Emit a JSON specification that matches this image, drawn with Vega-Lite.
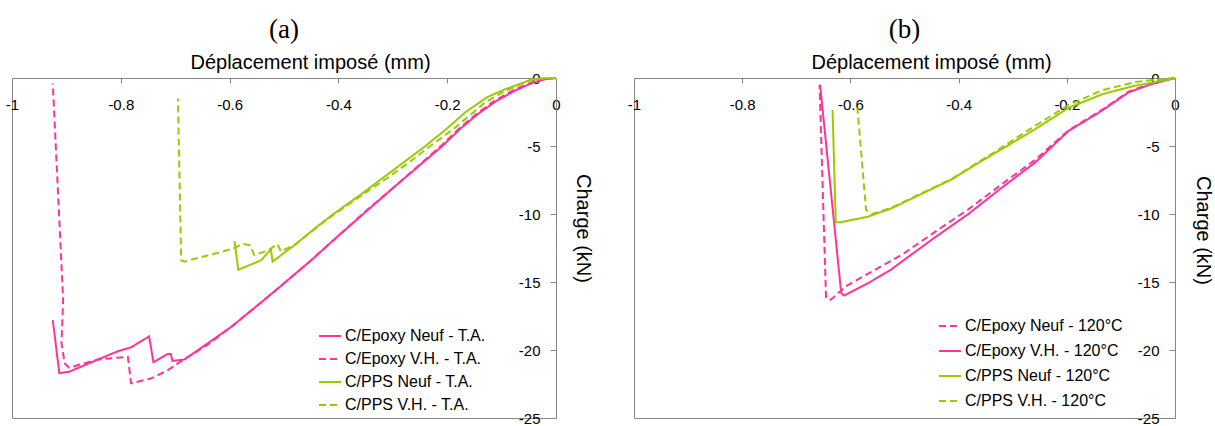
{
  "$schema": "https://vega.github.io/schema/vega-lite/v6.json",
  "background": "white",
  "padding": {"left": 4, "top": 15, "right": 5, "bottom": 0},
  "bounds": "flush",
  "spacing": 78,
  "config": {
    "font": "Liberation Sans",
    "view": {"stroke": "#868686", "strokeWidth": 1},
    "axis": {"grid": false, "domainColor": "#868686", "tickColor": "#868686", "labelColor": "#000000", "titleColor": "#000000", "labelFont": "Liberation Sans", "titleFont": "Liberation Sans", "titleFontWeight": "normal"},
    "title": {"font": "Liberation Serif", "fontSize": 27, "fontWeight": "normal", "color": "#000000"},
    "legend": {"labelFont": "Liberation Sans", "labelFontSize": 16, "labelColor": "#000000", "symbolType": "stroke", "symbolSize": 484, "symbolStrokeWidth": 2, "labelOffset": 3, "padding": 0, "labelLimit": 400}
  },
  "datasets": {
    "a": [
      {"s": "C/Epoxy Neuf - T.A.", "i": 0, "x": 0, "y": 0},
      {"s": "C/Epoxy Neuf - T.A.", "i": 1, "x": -0.02, "y": -0.1},
      {"s": "C/Epoxy Neuf - T.A.", "i": 2, "x": -0.04, "y": -0.3},
      {"s": "C/Epoxy Neuf - T.A.", "i": 3, "x": -0.074, "y": -0.9},
      {"s": "C/Epoxy Neuf - T.A.", "i": 4, "x": -0.11, "y": -1.7},
      {"s": "C/Epoxy Neuf - T.A.", "i": 5, "x": -0.142, "y": -2.6},
      {"s": "C/Epoxy Neuf - T.A.", "i": 6, "x": -0.175, "y": -3.7},
      {"s": "C/Epoxy Neuf - T.A.", "i": 7, "x": -0.209, "y": -5.0},
      {"s": "C/Epoxy Neuf - T.A.", "i": 8, "x": -0.25, "y": -6.4},
      {"s": "C/Epoxy Neuf - T.A.", "i": 9, "x": -0.3, "y": -8.1},
      {"s": "C/Epoxy Neuf - T.A.", "i": 10, "x": -0.35, "y": -9.85},
      {"s": "C/Epoxy Neuf - T.A.", "i": 11, "x": -0.4, "y": -11.6},
      {"s": "C/Epoxy Neuf - T.A.", "i": 12, "x": -0.45, "y": -13.4},
      {"s": "C/Epoxy Neuf - T.A.", "i": 13, "x": -0.5, "y": -15.1},
      {"s": "C/Epoxy Neuf - T.A.", "i": 14, "x": -0.542, "y": -16.5},
      {"s": "C/Epoxy Neuf - T.A.", "i": 15, "x": -0.597, "y": -18.3},
      {"s": "C/Epoxy Neuf - T.A.", "i": 16, "x": -0.64, "y": -19.5},
      {"s": "C/Epoxy Neuf - T.A.", "i": 17, "x": -0.683, "y": -20.7},
      {"s": "C/Epoxy Neuf - T.A.", "i": 18, "x": -0.705, "y": -20.8},
      {"s": "C/Epoxy Neuf - T.A.", "i": 19, "x": -0.708, "y": -20.3},
      {"s": "C/Epoxy Neuf - T.A.", "i": 20, "x": -0.714, "y": -20.3},
      {"s": "C/Epoxy Neuf - T.A.", "i": 21, "x": -0.74, "y": -20.9},
      {"s": "C/Epoxy Neuf - T.A.", "i": 22, "x": -0.748, "y": -19.0},
      {"s": "C/Epoxy Neuf - T.A.", "i": 23, "x": -0.781, "y": -19.8},
      {"s": "C/Epoxy Neuf - T.A.", "i": 24, "x": -0.806, "y": -20.1},
      {"s": "C/Epoxy Neuf - T.A.", "i": 25, "x": -0.842, "y": -20.7},
      {"s": "C/Epoxy Neuf - T.A.", "i": 26, "x": -0.895, "y": -21.6},
      {"s": "C/Epoxy Neuf - T.A.", "i": 27, "x": -0.913, "y": -21.7},
      {"s": "C/Epoxy Neuf - T.A.", "i": 28, "x": -0.925, "y": -17.8},

      {"s": "C/Epoxy V.H. - T.A.", "i": 0, "x": 0, "y": 0},
      {"s": "C/Epoxy V.H. - T.A.", "i": 1, "x": -0.02, "y": -0.05},
      {"s": "C/Epoxy V.H. - T.A.", "i": 2, "x": -0.04, "y": -0.25},
      {"s": "C/Epoxy V.H. - T.A.", "i": 3, "x": -0.074, "y": -0.8},
      {"s": "C/Epoxy V.H. - T.A.", "i": 4, "x": -0.11, "y": -1.6},
      {"s": "C/Epoxy V.H. - T.A.", "i": 5, "x": -0.142, "y": -2.5},
      {"s": "C/Epoxy V.H. - T.A.", "i": 6, "x": -0.175, "y": -3.6},
      {"s": "C/Epoxy V.H. - T.A.", "i": 7, "x": -0.209, "y": -4.9},
      {"s": "C/Epoxy V.H. - T.A.", "i": 8, "x": -0.25, "y": -6.35},
      {"s": "C/Epoxy V.H. - T.A.", "i": 9, "x": -0.3, "y": -8.1},
      {"s": "C/Epoxy V.H. - T.A.", "i": 10, "x": -0.35, "y": -9.8},
      {"s": "C/Epoxy V.H. - T.A.", "i": 11, "x": -0.4, "y": -11.6},
      {"s": "C/Epoxy V.H. - T.A.", "i": 12, "x": -0.45, "y": -13.4},
      {"s": "C/Epoxy V.H. - T.A.", "i": 13, "x": -0.5, "y": -15.1},
      {"s": "C/Epoxy V.H. - T.A.", "i": 14, "x": -0.542, "y": -16.5},
      {"s": "C/Epoxy V.H. - T.A.", "i": 15, "x": -0.597, "y": -18.3},
      {"s": "C/Epoxy V.H. - T.A.", "i": 16, "x": -0.64, "y": -19.6},
      {"s": "C/Epoxy V.H. - T.A.", "i": 17, "x": -0.692, "y": -20.9},
      {"s": "C/Epoxy V.H. - T.A.", "i": 18, "x": -0.714, "y": -21.5},
      {"s": "C/Epoxy V.H. - T.A.", "i": 19, "x": -0.745, "y": -22.1},
      {"s": "C/Epoxy V.H. - T.A.", "i": 20, "x": -0.781, "y": -22.45},
      {"s": "C/Epoxy V.H. - T.A.", "i": 21, "x": -0.787, "y": -20.5},
      {"s": "C/Epoxy V.H. - T.A.", "i": 22, "x": -0.842, "y": -20.7},
      {"s": "C/Epoxy V.H. - T.A.", "i": 23, "x": -0.895, "y": -21.3},
      {"s": "C/Epoxy V.H. - T.A.", "i": 24, "x": -0.903, "y": -21.0},
      {"s": "C/Epoxy V.H. - T.A.", "i": 25, "x": -0.909, "y": -19.5},
      {"s": "C/Epoxy V.H. - T.A.", "i": 26, "x": -0.906, "y": -16.3},
      {"s": "C/Epoxy V.H. - T.A.", "i": 27, "x": -0.925, "y": -0.4},

      {"s": "C/PPS Neuf - T.A.", "i": 0, "x": 0, "y": 0},
      {"s": "C/PPS Neuf - T.A.", "i": 1, "x": -0.02, "y": -0.02},
      {"s": "C/PPS Neuf - T.A.", "i": 2, "x": -0.045, "y": -0.1},
      {"s": "C/PPS Neuf - T.A.", "i": 3, "x": -0.064, "y": -0.4},
      {"s": "C/PPS Neuf - T.A.", "i": 4, "x": -0.095, "y": -0.85},
      {"s": "C/PPS Neuf - T.A.", "i": 5, "x": -0.126, "y": -1.4},
      {"s": "C/PPS Neuf - T.A.", "i": 6, "x": -0.166, "y": -2.5},
      {"s": "C/PPS Neuf - T.A.", "i": 7, "x": -0.2, "y": -3.7},
      {"s": "C/PPS Neuf - T.A.", "i": 8, "x": -0.24, "y": -5.0},
      {"s": "C/PPS Neuf - T.A.", "i": 9, "x": -0.28, "y": -6.2},
      {"s": "C/PPS Neuf - T.A.", "i": 10, "x": -0.32, "y": -7.4},
      {"s": "C/PPS Neuf - T.A.", "i": 11, "x": -0.36, "y": -8.6},
      {"s": "C/PPS Neuf - T.A.", "i": 12, "x": -0.409, "y": -10.0},
      {"s": "C/PPS Neuf - T.A.", "i": 13, "x": -0.44, "y": -10.95},
      {"s": "C/PPS Neuf - T.A.", "i": 14, "x": -0.481, "y": -12.3},
      {"s": "C/PPS Neuf - T.A.", "i": 15, "x": -0.521, "y": -13.5},
      {"s": "C/PPS Neuf - T.A.", "i": 16, "x": -0.524, "y": -12.6},
      {"s": "C/PPS Neuf - T.A.", "i": 17, "x": -0.542, "y": -13.4},
      {"s": "C/PPS Neuf - T.A.", "i": 18, "x": -0.584, "y": -14.1},
      {"s": "C/PPS Neuf - T.A.", "i": 19, "x": -0.591, "y": -12.0},

      {"s": "C/PPS V.H. - T.A.", "i": 0, "x": 0, "y": 0},
      {"s": "C/PPS V.H. - T.A.", "i": 1, "x": -0.02, "y": -0.03},
      {"s": "C/PPS V.H. - T.A.", "i": 2, "x": -0.045, "y": -0.15},
      {"s": "C/PPS V.H. - T.A.", "i": 3, "x": -0.068, "y": -0.5},
      {"s": "C/PPS V.H. - T.A.", "i": 4, "x": -0.1, "y": -1.1},
      {"s": "C/PPS V.H. - T.A.", "i": 5, "x": -0.13, "y": -1.8},
      {"s": "C/PPS V.H. - T.A.", "i": 6, "x": -0.154, "y": -2.6},
      {"s": "C/PPS V.H. - T.A.", "i": 7, "x": -0.19, "y": -3.8},
      {"s": "C/PPS V.H. - T.A.", "i": 8, "x": -0.231, "y": -5.0},
      {"s": "C/PPS V.H. - T.A.", "i": 9, "x": -0.27, "y": -6.2},
      {"s": "C/PPS V.H. - T.A.", "i": 10, "x": -0.31, "y": -7.35},
      {"s": "C/PPS V.H. - T.A.", "i": 11, "x": -0.36, "y": -8.7},
      {"s": "C/PPS V.H. - T.A.", "i": 12, "x": -0.409, "y": -10.05},
      {"s": "C/PPS V.H. - T.A.", "i": 13, "x": -0.44, "y": -11.0},
      {"s": "C/PPS V.H. - T.A.", "i": 14, "x": -0.48, "y": -12.25},
      {"s": "C/PPS V.H. - T.A.", "i": 15, "x": -0.506, "y": -12.75},
      {"s": "C/PPS V.H. - T.A.", "i": 16, "x": -0.512, "y": -12.2},
      {"s": "C/PPS V.H. - T.A.", "i": 17, "x": -0.53, "y": -12.7},
      {"s": "C/PPS V.H. - T.A.", "i": 18, "x": -0.555, "y": -13.0},
      {"s": "C/PPS V.H. - T.A.", "i": 19, "x": -0.562, "y": -12.3},
      {"s": "C/PPS V.H. - T.A.", "i": 20, "x": -0.576, "y": -12.2},
      {"s": "C/PPS V.H. - T.A.", "i": 21, "x": -0.591, "y": -12.5},
      {"s": "C/PPS V.H. - T.A.", "i": 22, "x": -0.616, "y": -12.8},
      {"s": "C/PPS V.H. - T.A.", "i": 23, "x": -0.646, "y": -13.1},
      {"s": "C/PPS V.H. - T.A.", "i": 24, "x": -0.683, "y": -13.5},
      {"s": "C/PPS V.H. - T.A.", "i": 25, "x": -0.689, "y": -13.4},
      {"s": "C/PPS V.H. - T.A.", "i": 26, "x": -0.695, "y": -1.5}
    ],
    "b": [
      {"s": "C/Epoxy Neuf - 120°C", "i": 0, "x": 0, "y": 0},
      {"s": "C/Epoxy Neuf - 120°C", "i": 1, "x": -0.02, "y": -0.18},
      {"s": "C/Epoxy Neuf - 120°C", "i": 2, "x": -0.043, "y": -0.4},
      {"s": "C/Epoxy Neuf - 120°C", "i": 3, "x": -0.086, "y": -1.0},
      {"s": "C/Epoxy Neuf - 120°C", "i": 4, "x": -0.135, "y": -2.35},
      {"s": "C/Epoxy Neuf - 120°C", "i": 5, "x": -0.197, "y": -3.85},
      {"s": "C/Epoxy Neuf - 120°C", "i": 6, "x": -0.258, "y": -6.0},
      {"s": "C/Epoxy Neuf - 120°C", "i": 7, "x": -0.32, "y": -7.8},
      {"s": "C/Epoxy Neuf - 120°C", "i": 8, "x": -0.382, "y": -9.66},
      {"s": "C/Epoxy Neuf - 120°C", "i": 9, "x": -0.443, "y": -11.3},
      {"s": "C/Epoxy Neuf - 120°C", "i": 10, "x": -0.505, "y": -13.0},
      {"s": "C/Epoxy Neuf - 120°C", "i": 11, "x": -0.55, "y": -14.0},
      {"s": "C/Epoxy Neuf - 120°C", "i": 12, "x": -0.608, "y": -15.3},
      {"s": "C/Epoxy Neuf - 120°C", "i": 13, "x": -0.636, "y": -16.3},
      {"s": "C/Epoxy Neuf - 120°C", "i": 14, "x": -0.645, "y": -16.2},
      {"s": "C/Epoxy Neuf - 120°C", "i": 15, "x": -0.657, "y": -0.5},

      {"s": "C/Epoxy V.H. - 120°C", "i": 0, "x": 0, "y": 0},
      {"s": "C/Epoxy V.H. - 120°C", "i": 1, "x": -0.02, "y": -0.2},
      {"s": "C/Epoxy V.H. - 120°C", "i": 2, "x": -0.043, "y": -0.44},
      {"s": "C/Epoxy V.H. - 120°C", "i": 3, "x": -0.086, "y": -1.06},
      {"s": "C/Epoxy V.H. - 120°C", "i": 4, "x": -0.135, "y": -2.4},
      {"s": "C/Epoxy V.H. - 120°C", "i": 5, "x": -0.197, "y": -3.9},
      {"s": "C/Epoxy V.H. - 120°C", "i": 6, "x": -0.258, "y": -6.2},
      {"s": "C/Epoxy V.H. - 120°C", "i": 7, "x": -0.32, "y": -8.06},
      {"s": "C/Epoxy V.H. - 120°C", "i": 8, "x": -0.382, "y": -10.0},
      {"s": "C/Epoxy V.H. - 120°C", "i": 9, "x": -0.443, "y": -11.7},
      {"s": "C/Epoxy V.H. - 120°C", "i": 10, "x": -0.505, "y": -13.5},
      {"s": "C/Epoxy V.H. - 120°C", "i": 11, "x": -0.525, "y": -14.1},
      {"s": "C/Epoxy V.H. - 120°C", "i": 12, "x": -0.568, "y": -15.1},
      {"s": "C/Epoxy V.H. - 120°C", "i": 13, "x": -0.612, "y": -16.0},
      {"s": "C/Epoxy V.H. - 120°C", "i": 14, "x": -0.617, "y": -15.8},
      {"s": "C/Epoxy V.H. - 120°C", "i": 15, "x": -0.656, "y": -0.5},

      {"s": "C/PPS Neuf - 120°C", "i": 0, "x": 0, "y": 0},
      {"s": "C/PPS Neuf - 120°C", "i": 1, "x": -0.037, "y": -0.3},
      {"s": "C/PPS Neuf - 120°C", "i": 2, "x": -0.074, "y": -0.57},
      {"s": "C/PPS Neuf - 120°C", "i": 3, "x": -0.135, "y": -1.2},
      {"s": "C/PPS Neuf - 120°C", "i": 4, "x": -0.197, "y": -2.2},
      {"s": "C/PPS Neuf - 120°C", "i": 5, "x": -0.258, "y": -3.75},
      {"s": "C/PPS Neuf - 120°C", "i": 6, "x": -0.32, "y": -5.23},
      {"s": "C/PPS Neuf - 120°C", "i": 7, "x": -0.366, "y": -6.3},
      {"s": "C/PPS Neuf - 120°C", "i": 8, "x": -0.412, "y": -7.44},
      {"s": "C/PPS Neuf - 120°C", "i": 9, "x": -0.47, "y": -8.55},
      {"s": "C/PPS Neuf - 120°C", "i": 10, "x": -0.525, "y": -9.6},
      {"s": "C/PPS Neuf - 120°C", "i": 11, "x": -0.568, "y": -10.2},
      {"s": "C/PPS Neuf - 120°C", "i": 12, "x": -0.617, "y": -10.6},
      {"s": "C/PPS Neuf - 120°C", "i": 13, "x": -0.627, "y": -10.6},
      {"s": "C/PPS Neuf - 120°C", "i": 14, "x": -0.633, "y": -2.35},

      {"s": "C/PPS V.H. - 120°C", "i": 0, "x": 0, "y": 0},
      {"s": "C/PPS V.H. - 120°C", "i": 1, "x": -0.037, "y": -0.12},
      {"s": "C/PPS V.H. - 120°C", "i": 2, "x": -0.074, "y": -0.3},
      {"s": "C/PPS V.H. - 120°C", "i": 3, "x": -0.135, "y": -0.9},
      {"s": "C/PPS V.H. - 120°C", "i": 4, "x": -0.197, "y": -2.0},
      {"s": "C/PPS V.H. - 120°C", "i": 5, "x": -0.258, "y": -3.5},
      {"s": "C/PPS V.H. - 120°C", "i": 6, "x": -0.32, "y": -5.1},
      {"s": "C/PPS V.H. - 120°C", "i": 7, "x": -0.366, "y": -6.25},
      {"s": "C/PPS V.H. - 120°C", "i": 8, "x": -0.412, "y": -7.4},
      {"s": "C/PPS V.H. - 120°C", "i": 9, "x": -0.47, "y": -8.5},
      {"s": "C/PPS V.H. - 120°C", "i": 10, "x": -0.525, "y": -9.55},
      {"s": "C/PPS V.H. - 120°C", "i": 11, "x": -0.56, "y": -10.0},
      {"s": "C/PPS V.H. - 120°C", "i": 12, "x": -0.571, "y": -9.7},
      {"s": "C/PPS V.H. - 120°C", "i": 13, "x": -0.587, "y": -2.2}
    ]
  },
  "hconcat": [
    {
      "width": 544,
      "height": 340,
      "title": {"text": "(a)", "anchor": "middle", "offset": 8},
      "data": {"name": "a"},
      "mark": {"type": "line", "strokeWidth": 2},
      "encoding": {
        "x": {"field": "x", "type": "quantitative", "scale": {"domain": [-1, 0], "nice": false, "zero": false},
          "axis": {"orient": "top", "values": [-1, -0.8, -0.6, -0.4, -0.2, 0], "labelExpr": "(datum.value < 0 ? '-' : '') + format(abs(datum.value), '~g')", "labelFontSize": 15, "labelBaseline": "alphabetic", "labelPadding": -26, "tickSize": -5, "labelFlush": false, "labelOverlap": false, "title": "Déplacement imposé (mm)", "titleFontSize": 20, "titleX": 298, "titleY": -10, "titleAlign": "center", "titleBaseline": "alphabetic"}},
        "y": {"field": "y", "type": "quantitative", "scale": {"domain": [-25, 0], "nice": false, "zero": false},
          "axis": {"orient": "right", "values": [0, -5, -10, -15, -20, -25], "labelExpr": "(datum.value < 0 ? '-' : '') + format(abs(datum.value), '~g')", "labelFontSize": 15, "labelAlign": "right", "labelBaseline": "middle", "labelPadding": -10, "tickSize": -6, "labelFlush": false, "labelOverlap": false, "title": "Charge (kN)", "titleFontSize": 20, "titleAngle": 90, "titleX": 26, "titleY": 150, "titleAlign": "center", "titleBaseline": "middle"}},
        "color": {"field": "s", "type": "nominal",
          "scale": {"domain": ["C/Epoxy Neuf - T.A.", "C/Epoxy V.H. - T.A.", "C/PPS Neuf - T.A.", "C/PPS V.H. - T.A."], "range": ["#FF3399", "#FF3399", "#99CC00", "#99CC00"]},
          "legend": {"orient": "none", "legendX": 306, "legendY": 246, "title": null, "rowPadding": 3}},
        "strokeDash": {"field": "s", "type": "nominal",
          "scale": {"domain": ["C/Epoxy Neuf - T.A.", "C/Epoxy V.H. - T.A.", "C/PPS Neuf - T.A.", "C/PPS V.H. - T.A."], "range": [[1, 0], [7, 4], [1, 0], [7, 4]]},
          "legend": {"orient": "none", "legendX": 306, "legendY": 246, "title": null, "rowPadding": 3}},
        "order": {"field": "i", "type": "quantitative"}
      }
    },
    {
      "width": 541,
      "height": 340,
      "title": {"text": "(b)", "anchor": "middle", "offset": 8},
      "data": {"name": "b"},
      "mark": {"type": "line", "strokeWidth": 2},
      "encoding": {
        "x": {"field": "x", "type": "quantitative", "scale": {"domain": [-1, 0], "nice": false, "zero": false},
          "axis": {"orient": "top", "values": [-1, -0.8, -0.6, -0.4, -0.2, 0], "labelExpr": "(datum.value < 0 ? '-' : '') + format(abs(datum.value), '~g')", "labelFontSize": 15, "labelBaseline": "alphabetic", "labelPadding": -26, "tickSize": -5, "labelFlush": false, "labelOverlap": false, "title": "Déplacement imposé (mm)", "titleFontSize": 20, "titleX": 297, "titleY": -10, "titleAlign": "center", "titleBaseline": "alphabetic"}},
        "y": {"field": "y", "type": "quantitative", "scale": {"domain": [-25, 0], "nice": false, "zero": false},
          "axis": {"orient": "right", "values": [0, -5, -10, -15, -20, -25], "labelExpr": "(datum.value < 0 ? '-' : '') + format(abs(datum.value), '~g')", "labelFontSize": 15, "labelAlign": "right", "labelBaseline": "middle", "labelPadding": -10, "tickSize": -6, "labelFlush": false, "labelOverlap": false, "title": "Charge (kN)", "titleFontSize": 20, "titleAngle": 90, "titleX": 27, "titleY": 152, "titleAlign": "center", "titleBaseline": "middle"}},
        "color": {"field": "s", "type": "nominal",
          "scale": {"domain": ["C/Epoxy Neuf - 120°C", "C/Epoxy V.H. - 120°C", "C/PPS Neuf - 120°C", "C/PPS V.H. - 120°C"], "range": ["#FF3399", "#FF3399", "#99CC00", "#99CC00"]},
          "legend": {"orient": "none", "legendX": 304, "legendY": 236, "title": null, "rowPadding": 5}},
        "strokeDash": {"field": "s", "type": "nominal",
          "scale": {"domain": ["C/Epoxy Neuf - 120°C", "C/Epoxy V.H. - 120°C", "C/PPS Neuf - 120°C", "C/PPS V.H. - 120°C"], "range": [[7, 4], [1, 0], [1, 0], [7, 4]]},
          "legend": {"orient": "none", "legendX": 304, "legendY": 236, "title": null, "rowPadding": 5}},
        "order": {"field": "i", "type": "quantitative"}
      }
    }
  ],
  "resolve": {"scale": {"color": "independent", "strokeDash": "independent"}, "legend": {"color": "independent", "strokeDash": "independent"}}
}
